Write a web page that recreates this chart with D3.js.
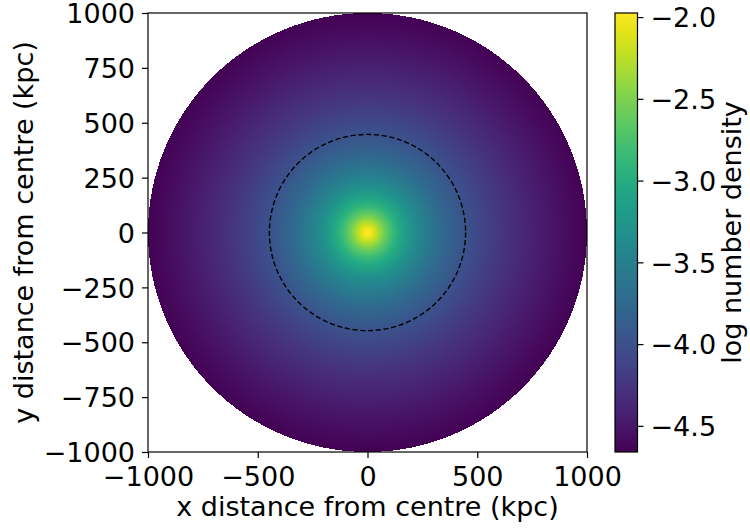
<!DOCTYPE html>
<html>
<head>
<meta charset="utf-8">
<script src="https://cdn.jsdelivr.net/npm/d3@7"></script>
<style>
  html, body { margin: 0; padding: 0; background: #fff; }
  svg { display: block; font-family: "DejaVu Sans", sans-serif; }
</style>
</head>
<body>
<svg id="chart" width="750" height="530"></svg>
<script>
// Radial profile of the cluster gas: distance from centre (kpc) and log number density
const profileRadius = [0, 10, 20, 30, 40, 50, 60, 80, 100, 125, 150, 200, 250, 300, 350, 400, 450, 500, 600, 700, 800, 900, 1000];
const profileLogDensity = [-1.975, -1.99, -2.05, -2.13, -2.22, -2.32, -2.41, -2.59, -2.74, -2.91, -3.05, -3.29, -3.48, -3.63, -3.77, -3.88, -3.98, -4.07, -4.23, -4.36, -4.48, -4.57, -4.655];

// Outer edge of the map and the dashed reference radius (kpc)
const mapRadius = 1000;
const dashedRadius = 447;

// Axis ticks
const xTicks = [-1000, -500, 0, 500, 1000];
const yTicks = [-1000, -750, -500, -250, 0, 250, 500, 750, 1000];
const colorTicks = [-2.0, -2.5, -3.0, -3.5, -4.0, -4.5];
const colorDomain = [-4.66, -1.975];

const xLabel = "x distance from centre (kpc)";
const yLabel = "y distance from centre (kpc)";
const colorLabel = "log number density";

const svg = d3.select("#chart");
const fontSize = 27;
const minus = s => s.replace(/-/g, "\u2212");

const plot = { left: 148, right: 587, top: 13, bottom: 452 };
const x = d3.scaleLinear().domain([-1000, 1000]).range([plot.left, plot.right]);
const y = d3.scaleLinear().domain([-1000, 1000]).range([plot.bottom, plot.top]);
const cScale = d3.scaleLinear().domain(colorDomain).range([0, 1]).clamp(true);
const colorOf = v => d3.interpolateViridis(cScale(v));

const defs = svg.append("defs");

// Density disc: radial gradient with one stop per profile sample
const rg = defs.append("radialGradient")
  .attr("id", "densityGrad")
  .attr("gradientUnits", "userSpaceOnUse")
  .attr("cx", x(0)).attr("cy", y(0))
  .attr("r", x(mapRadius) - x(0));
rg.selectAll("stop")
  .data(profileRadius.map((r, i) => ({ r, v: profileLogDensity[i] })))
  .join("stop")
  .attr("offset", d => d.r / mapRadius)
  .attr("stop-color", d => colorOf(d.v));

svg.append("circle")
  .attr("cx", x(0)).attr("cy", y(0))
  .attr("r", x(mapRadius) - x(0))
  .attr("fill", "url(#densityGrad)")
  .attr("shape-rendering", "crispEdges");

// Dashed reference circle
svg.append("circle")
  .attr("cx", x(0)).attr("cy", y(0))
  .attr("r", x(dashedRadius) - x(0))
  .attr("fill", "none")
  .attr("stroke", "#000")
  .attr("stroke-width", 1.4)
  .attr("stroke-dasharray", "5.2,2.6");

// Frame
svg.append("rect")
  .attr("x", plot.left).attr("y", plot.top)
  .attr("width", plot.right - plot.left).attr("height", plot.bottom - plot.top)
  .attr("fill", "none").attr("stroke", "#000").attr("stroke-width", 1.2);

// X axis
const xAxis = svg.append("g")
  .attr("transform", `translate(0,${plot.bottom})`)
  .call(d3.axisBottom(x).tickValues(xTicks).tickSize(6).tickPadding(7).tickFormat(d => minus(d3.format("d")(d))));
// Y axis
const yAxis = svg.append("g")
  .attr("transform", `translate(${plot.left},0)`)
  .call(d3.axisLeft(y).tickValues(yTicks).tickSize(6).tickPadding(7).tickFormat(d => minus(d3.format("d")(d))));

[xAxis, yAxis].forEach(g => {
  g.select(".domain").remove();
  g.selectAll(".tick line").attr("stroke", "#000").attr("stroke-width", 1.2);
  g.selectAll(".tick text").attr("fill", "#000").style("font-size", fontSize + "px").style("font-family", "DejaVu Sans");
});
xAxis.selectAll(".tick text").attr("dy", null).attr("y", 34);
yAxis.selectAll(".tick text").attr("dy", "0.36em");

svg.append("text")
  .attr("x", (plot.left + plot.right) / 2).attr("y", 516)
  .attr("text-anchor", "middle").style("font-size", fontSize + "px")
  .text(xLabel);

svg.append("text")
  .attr("transform", `translate(33,${(plot.top + plot.bottom) / 2}) rotate(-90)`)
  .attr("text-anchor", "middle").style("font-size", fontSize + "px")
  .text(yLabel);

// Colour bar
const cb = { left: 615, right: 637.5, top: 13, bottom: 452 };
const cbY = d3.scaleLinear().domain(colorDomain).range([cb.bottom, cb.top]);
const lg = defs.append("linearGradient")
  .attr("id", "cbarGrad")
  .attr("x1", 0).attr("y1", 1).attr("x2", 0).attr("y2", 0);
lg.selectAll("stop")
  .data(d3.range(0, 1.0001, 0.05))
  .join("stop")
  .attr("offset", t => t)
  .attr("stop-color", t => d3.interpolateViridis(t));

svg.append("rect")
  .attr("x", cb.left).attr("y", cb.top)
  .attr("width", cb.right - cb.left).attr("height", cb.bottom - cb.top)
  .attr("fill", "url(#cbarGrad)")
  .attr("stroke", "#000").attr("stroke-width", 1.2);

const cAxis = svg.append("g")
  .attr("transform", `translate(${cb.right},0)`)
  .call(d3.axisRight(cbY).tickValues(colorTicks).tickSize(6).tickPadding(7).tickFormat(d => minus(d3.format(".1f")(d))));
cAxis.select(".domain").remove();
cAxis.selectAll(".tick line").attr("stroke", "#000").attr("stroke-width", 1.2);
cAxis.selectAll(".tick text").attr("fill", "#000").attr("dy", "0.36em")
  .style("font-size", fontSize + "px").style("font-family", "DejaVu Sans");

svg.append("text")
  .attr("transform", `translate(741,${(cb.top + cb.bottom) / 2}) rotate(-90)`)
  .attr("text-anchor", "middle").style("font-size", fontSize + "px")
  .text(colorLabel);
</script>
</body>
</html>
